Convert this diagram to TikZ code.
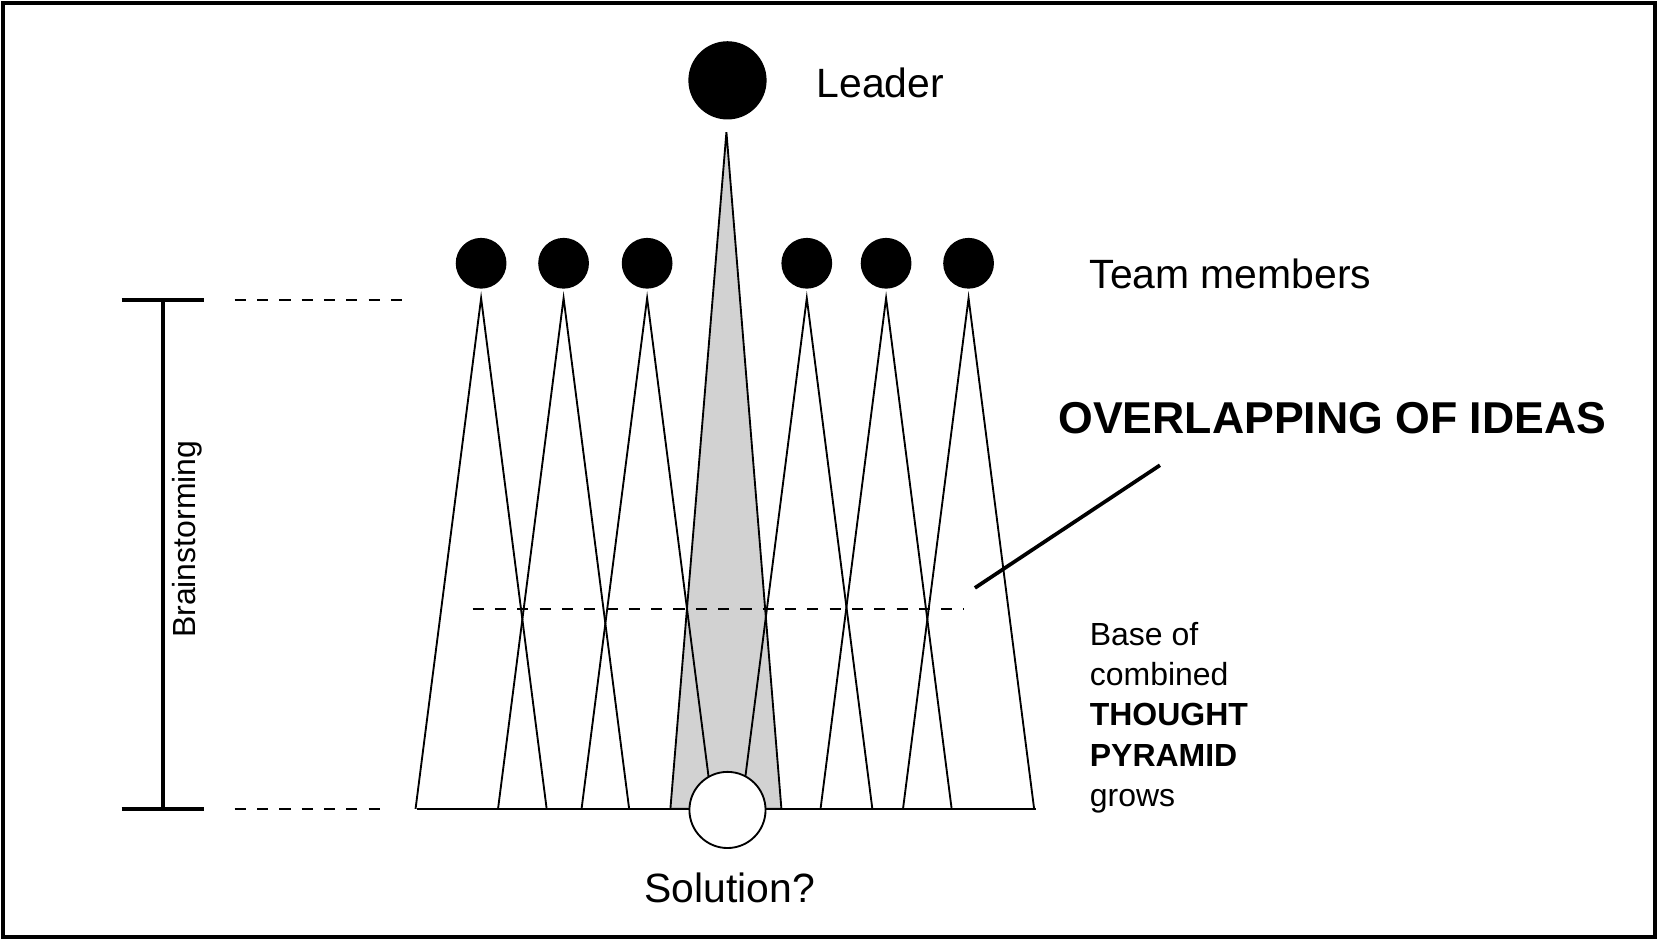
\documentclass[tikz,border=0pt]{standalone}
\usepackage{fontspec}
\setmainfont{Liberation Sans}
\begin{document}
\begin{tikzpicture}[x=0.01cm,y=-0.01cm,
    member/.style={circle,fill=black,minimum size=48*0.01cm,inner sep=0pt},
    wedge/.style={draw=black,line width=0.5pt},
    label/.style={font=\fontsize{11}{13}\selectfont,anchor=west}]

    % frame
    \useasboundingbox (0,0) rectangle (1568,889);
    \draw[line width=1pt] (3,3) rectangle (1565,886);

    % leader wedge
    \filldraw[wedge,fill=gray!35] (687,125) -- (634,765) -- (739,765) -- cycle;

    % member wedges
    \foreach \x/\n in {455/1,533/2,612/3,763/4,838/5,916/6} {
        \draw[wedge] (\x-62,765) -- (\x,282) -- (\x+62,765);
        \node[member] (m\n) at (\x,249) {};
    }
    \draw[wedge] (394,765) -- (980,765);

    \node[circle,fill=black,minimum size=74*0.01cm,inner sep=0pt] (leader) at (688,76) {};
    \node[circle,draw,fill=white,line width=0.5pt,minimum size=72*0.01cm,inner sep=0pt] (sol) at (688,766) {};

    \node[label] (lt) at (760,78) {Leader};
    \node[label] (tm) at (1018,259) {Team members};
    \node[font=\fontsize{11}{13}\selectfont] (st) at (690,840) {Solution?};

    % overlap line
    \draw[dashed,line width=0.5pt] (447,576) -- (912,576);
    \node[font=\bfseries\fontsize{12}{14}\selectfont] (ov) at (1260,395) {OVERLAPPING OF IDEAS};
    \coordinate (p1) at (922,556);
    \coordinate (p2) at (1097,440);
    \draw[line width=1pt] (p1) -- (p2);

    \node[anchor=north west,align=left,font=\fontsize{8.6}{10.8}\selectfont,inner sep=0pt] (base) at (1030,588)
        {Base of\\combined\\\textbf{THOUGHT}\\\textbf{PYRAMID}\\grows};

    % bracket
    \coordinate (b1) at (154,284);
    \coordinate (b2) at (154,765);
    \draw[line width=1pt] (b1) -- (b2);
    \draw[line width=1pt] (115,284) -- (193,284);
    \draw[line width=1pt] (115,765) -- (193,765);
    \draw[dashed,line width=0.5pt] (222,284) -- (383,284);
    \draw[dashed,line width=0.5pt] (222,765) -- (365,765);
    \node[rotate=90,font=\fontsize{8.6}{10}\selectfont] (bs) at (177,510) {Brainstorming};

\end{tikzpicture}
\end{document}
